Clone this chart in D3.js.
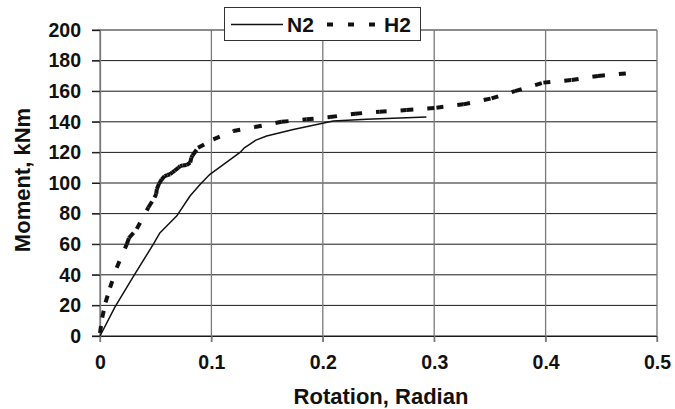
<!DOCTYPE html>
<html>
<head>
<meta charset="utf-8">
<script src="https://cdn.jsdelivr.net/npm/d3@7"></script>
<style>
  html, body { margin: 0; padding: 0; background: #fff; }
  svg { display: block; font-family: "Liberation Sans", Arial, sans-serif; }
</style>
</head>
<body>
<svg id="chart" width="675" height="409"></svg>
<script>
// ---- data ----
const xTicks = [0, 0.1, 0.2, 0.3, 0.4, 0.5];
const xTickLabels = ["0", "0.1", "0.2", "0.3", "0.4", "0.5"];
const yTicks = [0, 20, 40, 60, 80, 100, 120, 140, 160, 180, 200];

const n2Rotation = [0, 0.0135, 0.03, 0.0479, 0.0539, 0.0688, 0.0808, 0.0898, 0.0987, 0.1257, 0.1296, 0.14, 0.1496, 0.1735, 0.2094, 0.2393, 0.293];
const n2Moment   = [0, 19, 39, 60, 67.5, 78.4, 91.5, 99, 105.7, 120, 123, 128, 130.7, 135, 140.5, 141.6, 143.1];

const h2Rotation = [0, 0.002, 0.005, 0.009, 0.015, 0.024, 0.026, 0.033, 0.0434, 0.049, 0.0505, 0.051, 0.053, 0.0554, 0.058, 0.0605, 0.063, 0.065, 0.067, 0.0703, 0.072, 0.074, 0.0778, 0.081, 0.082, 0.083, 0.088, 0.1017, 0.1197, 0.139, 0.163, 0.1855, 0.2065, 0.229, 0.251, 0.275, 0.302, 0.326, 0.3515, 0.3725, 0.398, 0.4234, 0.447, 0.473];
const h2Moment   = [2, 12, 22, 31.6, 44.6, 60, 64, 70, 84, 90.5, 93, 96, 99.5, 102.4, 104.5, 105.2, 105.7, 107, 108, 110, 111, 111.5, 111.8, 113.3, 116.6, 118, 123, 128.5, 134, 136.6, 140, 141.6, 143.1, 145.3, 146.6, 147.7, 149.2, 151.4, 155.3, 160.1, 165.6, 167.3, 170, 171.7];

const seriesNames = ["N2", "H2"];
const xTitle = "Rotation, Radian";
const yTitle = "Moment, kNm";

// ---- layout ----
const pL = 100, pR = 657, pT = 30, pB = 336;
const svg = d3.select("#chart");
const x = d3.scaleLinear().domain([0, 0.5]).range([pL, pR]);
const y = d3.scaleLinear().domain([0, 200]).range([pB, pT]);

// grid lines
svg.append("g").selectAll("line").data(yTicks).join("line")
  .attr("x1", pL - 8).attr("x2", pR)
  .attr("y1", d => y(d)).attr("y2", d => y(d))
  .attr("stroke", "#1a1a1a").attr("stroke-width", 1);
svg.append("g").selectAll("line").data(xTicks).join("line")
  .attr("x1", d => x(d)).attr("x2", d => x(d))
  .attr("y1", pT).attr("y2", pB + 6)
  .attr("stroke", "#7a7a7a").attr("stroke-width", 1.3);

// axes (labels)
const yAxis = d3.axisLeft(y).tickValues(yTicks).tickSize(8).tickPadding(11).tickFormat(d3.format("d"));
const gy = svg.append("g").attr("transform", `translate(${pL},0)`).call(yAxis);
gy.select(".domain").attr("stroke", "#7a7a7a").attr("stroke-width", 1.3);
gy.selectAll(".tick line").attr("stroke", "#1a1a1a");
gy.selectAll("text").attr("font-size", 19.5).attr("font-weight", "bold").attr("fill", "#111")
  .attr("font-family", "Liberation Sans, Arial, sans-serif");

const xAxis = d3.axisBottom(x).tickValues(xTicks).tickSize(6).tickPadding(13)
  .tickFormat((d, i) => xTickLabels[i]);
const gx = svg.append("g").attr("transform", `translate(0,${pB})`).call(xAxis);
gx.select(".domain").attr("stroke", "#1a1a1a").attr("stroke-width", 1);
gx.selectAll(".tick line").attr("stroke", "#7a7a7a").attr("stroke-width", 1.3);
gx.selectAll("text").attr("font-size", 19.5).attr("font-weight", "bold").attr("fill", "#111")
  .attr("font-family", "Liberation Sans, Arial, sans-serif");

// titles
svg.append("text").attr("x", 381).attr("y", 404).attr("text-anchor", "middle")
  .attr("font-size", 22).attr("font-weight", "bold").attr("fill", "#111").text(xTitle);
svg.append("text").attr("transform", "translate(30,180) rotate(-90)").attr("text-anchor", "middle")
  .attr("font-size", 22).attr("font-weight", "bold").attr("fill", "#111").text(yTitle);

// series
const n2 = n2Rotation.map((r, i) => [r, n2Moment[i]]);
const h2 = h2Rotation.map((r, i) => [r, h2Moment[i]]);
const line = d3.line().x(d => x(d[0])).y(d => y(d[1]));

svg.append("path").datum(n2).attr("d", line)
  .attr("fill", "none").attr("stroke", "#111").attr("stroke-width", 1.5).attr("stroke-linejoin", "round");

// H2: dash pattern restarts on every segment
const h2Segs = d3.pairs(h2);
svg.append("g").selectAll("path").data(h2Segs).join("path")
  .attr("d", d => line(d))
  .attr("fill", "none").attr("stroke", "#111").attr("stroke-width", 4)
  .attr("stroke-dasharray", "7,14");

// legend
const lg = svg.append("g");
lg.append("rect").attr("x", 224.5).attr("y", 7.5).attr("width", 196).attr("height", 33)
  .attr("fill", "#fff").attr("stroke", "#333").attr("stroke-width", 1);
lg.append("line").attr("x1", 231).attr("x2", 283).attr("y1", 24.5).attr("y2", 24.5)
  .attr("stroke", "#111").attr("stroke-width", 1.5);
lg.append("text").attr("x", 287).attr("y", 32).attr("font-size", 21).attr("font-weight", "bold")
  .attr("fill", "#111").text(seriesNames[0]);
lg.append("line").attr("x1", 327).attr("x2", 382).attr("y1", 24.5).attr("y2", 24.5)
  .attr("stroke", "#111").attr("stroke-width", 4).attr("stroke-dasharray", "6,15");
lg.append("text").attr("x", 384).attr("y", 32).attr("font-size", 21).attr("font-weight", "bold")
  .attr("fill", "#111").text(seriesNames[1]);
</script>
</body>
</html>
